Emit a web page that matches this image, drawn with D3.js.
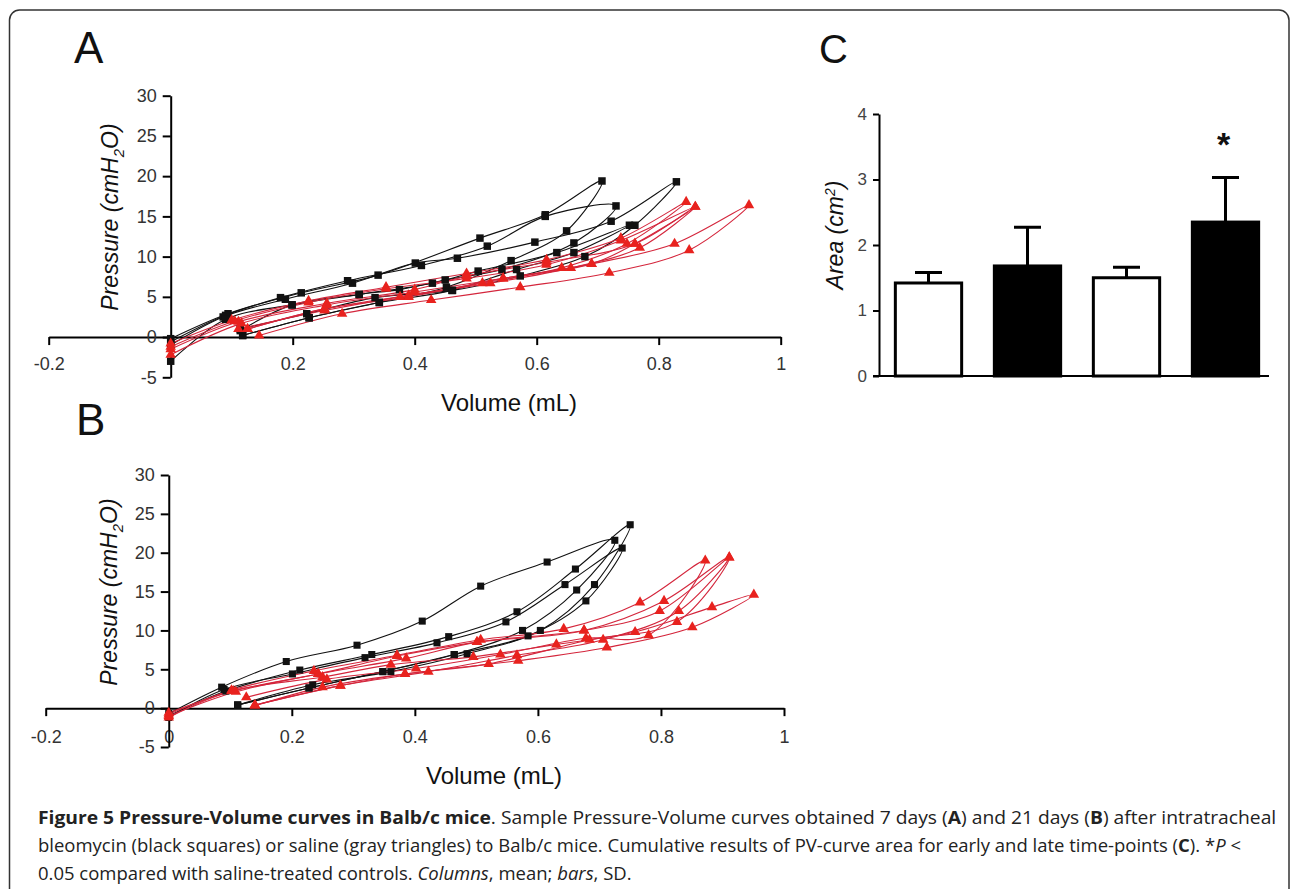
<!DOCTYPE html>
<html>
<head>
<meta charset="utf-8">
<script src="https://cdn.jsdelivr.net/npm/d3@7"></script>
<style>
  html, body { margin: 0; padding: 0; background: #fff; }
  svg { display: block; }
</style>
</head>
<body>
<svg id="fig" width="1290" height="889"></svg>
<script>
// ---------------- data ----------------
const volumeTicks = [-0.2, 0, 0.2, 0.4, 0.6, 0.8, 1];
const pressureTicks = [-5, 0, 5, 10, 15, 20, 25, 30];
const areaTicks = [0, 1, 2, 3, 4];

// PV loops, [volume mL, pressure cmH2O], inflation then deflation
const day7Bleomycin = [
  [[0,-0.2],[0.094,2.9],[0.214,5.5],[0.340,7.7],[0.507,12.3],[0.614,15.2],[0.707,19.4],
   [0.649,13.2],[0.558,9.5],[0.452,6.2],[0.342,4.3],[0.227,2.4],[0.118,0.2]],
  [[0,-1.0],[0.086,2.5],[0.188,4.7],[0.298,6.7],[0.401,9.2],[0.470,9.8],[0.597,11.8],[0.722,14.4],[0.829,19.3],
   [0.761,13.9],[0.679,10.0],[0.573,7.6],[0.462,5.8],[0.335,4.9],[0.223,2.9],[0.114,1.0]],
  [[0,-0.6],[0.090,2.7],[0.180,4.9],[0.290,7.0],[0.411,8.9],[0.519,11.3],[0.614,15.0],[0.730,16.3],
   [0.661,11.7],[0.543,8.4],[0.450,7.1],[0.375,5.9],[0.309,5.3],[0.199,4.0],[0.114,0.8]],
  [[0,-3.0],[0.090,2.2],[0.199,4.0],[0.309,5.3],[0.429,6.7],[0.504,8.2],[0.633,10.5],[0.752,13.9],
   [0.661,10.5],[0.567,8.4],[0.461,5.8],[0.342,4.3],[0.227,2.4],[0.118,0.2]]
];

const day7Saline = [
  [[0,-0.8],[0.100,2.1],[0.226,4.5],[0.353,6.2],[0.485,7.9],[0.616,9.6],[0.738,12.3],[0.845,16.8],
   [0.748,11.6],[0.641,8.6],[0.511,6.7],[0.390,5.2],[0.252,3.5],[0.126,1.0]],
  [[0,-1.5],[0.111,1.9],[0.256,4.2],[0.400,5.9],[0.485,7.6],[0.616,9.3],[0.761,11.6],[0.860,16.2],
   [0.769,11.1],[0.656,8.6],[0.524,6.7],[0.376,5.0],[0.252,3.3],[0.111,1.0]],
  [[0,-2.2],[0.116,1.7],[0.256,4.0],[0.400,5.6],[0.545,7.3],[0.690,9.1],[0.826,11.6],[0.948,16.4],
   [0.850,10.8],[0.719,8.0],[0.573,6.2],[0.427,4.6],[0.281,2.9],[0.145,0.2]],
  [[0,-1.2],[0.105,2.0],[0.226,4.3],[0.353,6.0],[0.485,7.3],[0.616,9.0],[0.738,12.0],[0.860,16.2],
   [0.761,11.6],[0.690,9.1],[0.545,7.3],[0.390,5.0],[0.252,3.5],[0.126,1.0]]
];

const day21Bleomycin = [
  [[0,-0.7],[0.086,2.7],[0.191,6.0],[0.306,8.1],[0.412,11.2],[0.507,15.7],[0.615,18.8],[0.725,21.6],
   [0.663,15.2],[0.575,10.0],[0.464,6.9],[0.348,4.7],[0.228,2.6],[0.112,0.4]],
  [[0,-1.0],[0.093,2.2],[0.213,4.9],[0.330,6.9],[0.455,9.2],[0.566,12.4],[0.661,17.9],[0.750,23.6],
   [0.692,15.9],[0.604,10.0],[0.485,7.0],[0.361,4.7],[0.234,3.0],[0.112,0.4]],
  [[0,-1.2],[0.090,2.4],[0.201,4.4],[0.319,6.5],[0.436,8.4],[0.548,11.1],[0.644,15.9],[0.737,20.6],
   [0.678,13.8],[0.584,9.3],[0.464,6.9],[0.348,4.7],[0.228,2.6],[0.112,0.4]]
];

const day21Saline = [
  [[0,-0.8],[0.102,2.3],[0.236,4.8],[0.371,6.8],[0.507,8.8],[0.642,10.2],[0.766,13.6],[0.872,19.0],
   [0.780,9.4],[0.678,9.0],[0.539,6.9],[0.402,5.1],[0.257,3.7],[0.126,1.4]],
  [[0,-1.0],[0.109,2.1],[0.243,4.4],[0.386,6.4],[0.501,8.5],[0.675,10.0],[0.798,12.5],[0.911,19.4],
   [0.829,12.5],[0.706,8.8],[0.566,6.8],[0.422,4.7],[0.279,2.9],[0.140,0.4]],
  [[0,-1.2],[0.102,2.2],[0.250,4.0],[0.361,5.6],[0.495,6.6],[0.630,8.2],[0.758,9.8],[0.883,13.0],[0.951,14.6],
   [0.851,10.4],[0.712,7.8],[0.568,6.1],[0.384,4.4],[0.250,2.7],[0.140,0.3]],
  [[0,-0.6],[0.105,2.2],[0.243,4.4],[0.371,6.7],[0.501,8.5],[0.675,10.0],[0.805,13.8],[0.911,19.4],
   [0.826,11.1],[0.684,8.8],[0.520,5.7],[0.384,4.4],[0.279,2.9],[0.140,0.4]]
];

// PV-curve area, panel C
const areaGroups = ["Saline early", "Bleomycin early", "Saline late", "Bleomycin late"];
const areaMean = [1.42, 1.68, 1.50, 2.35];
const areaSD = [0.16, 0.59, 0.16, 0.68];
const significant = [false, false, false, true];

// ---------------- drawing ----------------
const svg = d3.select("#fig");
const tickFont = "'Liberation Sans', Arial, sans-serif";
const plain = d => String(d);   // keep ASCII hyphen for negatives

// outer frame
svg.append("path")
  .attr("d", "M9.5,900 V20 A10,10 0 0 1 19.5,10 H1279 A10,10 0 0 1 1289,20 V900")
  .attr("fill", "none").attr("stroke", "#333").attr("stroke-width", 1.5);

function panelLetter(txt, x, y, size) {
  svg.append("text").attr("x", x).attr("y", y)
    .attr("font-family", tickFont).attr("font-size", size)
    .attr("fill", "#111").text(txt);
}

function pvPanel(opt) {
  const g = svg.append("g");
  const x = d3.scaleLinear().domain([-0.2, 1]).range(opt.xRange);
  const y = d3.scaleLinear().domain([-5, 30]).range(opt.yRange);

  // x axis crossing at pressure 0
  const xa = g.append("g").attr("transform", `translate(0,${y(0)})`)
    .call(d3.axisBottom(x).tickValues(volumeTicks).tickSize(8).tickSizeOuter(0)
      .tickPadding(opt.xPad)
      .tickFormat(d => (d === 0 && !opt.showZero) ? "" : plain(d)));
  // y axis at volume 0
  const ya = g.append("g").attr("transform", `translate(${x(0)},0)`)
    .call(d3.axisLeft(y).tickValues(pressureTicks).tickSize(8).tickSizeOuter(0)
      .tickPadding(6).tickFormat(plain));
  [xa, ya].forEach(a => {
    a.select(".domain").attr("stroke", "#000").attr("stroke-width", 2);
    a.selectAll(".tick line").attr("stroke", "#000").attr("stroke-width", 2);
    a.selectAll(".tick text").attr("font-family", tickFont).attr("font-size", 18).attr("fill", "#333");
  });

  // axis titles
  g.append("text").attr("x", opt.xTitle[0]).attr("y", opt.xTitle[1])
    .attr("text-anchor", "middle").attr("font-family", tickFont)
    .attr("font-size", 24).attr("fill", "#111").text("Volume (mL)");
  const yt = g.append("text")
    .attr("transform", `translate(${opt.yTitle[0]},${opt.yTitle[1]}) rotate(-90)`)
    .attr("text-anchor", "middle").attr("font-family", tickFont)
    .attr("font-size", 23).attr("font-style", "italic").attr("fill", "#111");
  yt.append("tspan").text("Pressure (cmH");
  yt.append("tspan").attr("font-size", 15).attr("dy", 6).text("2");
  yt.append("tspan").attr("dy", -6).text("O)");

  const line = d3.line().x(d => x(d[0])).y(d => y(d[1])).curve(d3.curveCatmullRom.alpha(0.5));

  const black = "#111", redLine = "#d4263c", redFill = "#e8221e";
  g.append("g").selectAll("path").data(opt.bleo).join("path")
    .attr("d", line).attr("fill", "none").attr("stroke", black).attr("stroke-width", 1.1);
  g.append("g").selectAll("path").data(opt.saline).join("path")
    .attr("d", line).attr("fill", "none").attr("stroke", redLine).attr("stroke-width", 1.1);

  const sq = d3.symbol().type(d3.symbolSquare).size(opt.sq)();
  const tri = d3.symbol().type(d3.symbolTriangle).size(opt.tri)();
  g.append("g").selectAll("path").data(opt.bleo.flat()).join("path")
    .attr("d", sq).attr("transform", d => `translate(${x(d[0])},${y(d[1])})`).attr("fill", black);
  g.append("g").selectAll("path").data(opt.saline.flat()).join("path")
    .attr("d", tri).attr("transform", d => `translate(${x(d[0])},${y(d[1])})`).attr("fill", redFill);
}

panelLetter("A", 74, 63, 44);
pvPanel({
  xRange: [48.7, 780.7], yRange: [377.3, 95.7], xPad: 12, showZero: false,
  xTitle: [509, 411], yTitle: [118, 217],
  bleo: day7Bleomycin, saline: day7Saline, sq: 56, tri: 48
});

panelLetter("B", 76, 435, 44);
pvPanel({
  xRange: [45.7, 784], yRange: [747, 475], xPad: 14, showZero: true,
  xTitle: [494, 784], yTitle: [117, 592],
  bleo: day21Bleomycin, saline: day21Saline, sq: 50, tri: 48
});

// ---------------- panel C: bar chart ----------------
panelLetter("C", 819, 63, 40);
(function () {
  const g = svg.append("g");
  const x = d3.scaleBand().domain(areaGroups).range([879, 1275]).paddingInner(0.3).paddingOuter(0.15);
  const y = d3.scaleLinear().domain([0, 4]).range([376, 114]);

  const ya = g.append("g").attr("transform", "translate(879,0)")
    .call(d3.axisLeft(y).tickValues(areaTicks).tickSize(6).tickSizeOuter(0)
      .tickPadding(6).tickFormat(plain));
  ya.select(".domain").attr("stroke", "#000").attr("stroke-width", 2);
  ya.selectAll(".tick line").attr("stroke", "#000").attr("stroke-width", 2);
  ya.selectAll(".tick text").attr("font-family", tickFont).attr("font-size", 17).attr("fill", "#444");

  // error bars (upper SD)
  g.append("g").selectAll("path").data(areaGroups).join("path")
    .attr("d", (d, i) => {
      const cx = x(d) + x.bandwidth() / 2;
      return `M${cx},${y(areaMean[i])}V${y(areaMean[i] + areaSD[i])}M${cx - 13.5},${y(areaMean[i] + areaSD[i])}h27`;
    })
    .attr("stroke", "#000").attr("stroke-width", 3).attr("fill", "none");

  g.append("g").selectAll("rect").data(areaGroups).join("rect")
    .attr("x", d => x(d) + 1.5).attr("width", x.bandwidth() - 3)
    .attr("y", (d, i) => y(areaMean[i])).attr("height", (d, i) => y(0) - y(areaMean[i]))
    .attr("fill", d => d.startsWith("Bleomycin") ? "#000" : "#fff")
    .attr("stroke", "#000").attr("stroke-width", 3);

  // baseline
  g.append("line").attr("x1", 873).attr("x2", 1269).attr("y1", y(0)).attr("y2", y(0))
    .attr("stroke", "#000").attr("stroke-width", 2);

  g.append("g").selectAll("text").data(areaGroups.filter((d, i) => significant[i])).join("text")
    .attr("x", d => x(d) + x.bandwidth() / 2 - 2).attr("y", 156)
    .attr("text-anchor", "middle").attr("font-family", tickFont)
    .attr("font-weight", "bold").attr("font-size", 34).attr("fill", "#111").text("*");

  const t = g.append("text").attr("transform", "translate(843,235) rotate(-90)")
    .attr("text-anchor", "middle").attr("font-family", tickFont)
    .attr("font-size", 23).attr("font-style", "italic").attr("fill", "#111");
  t.append("tspan").text("Area (cm");
  t.append("tspan").attr("font-size", 14).attr("dy", -8).text("2");
  t.append("tspan").attr("dy", 8).text(")");
})();

// ---------------- caption ----------------
const captionLines = [
  [["Figure 5 Pressure-Volume curves in Balb/c mice", "b"], [". Sample Pressure-Volume curves obtained 7 days (", ""],
   ["A", "b"], [") and 21 days (", ""], ["B", "b"], [") after intratracheal", ""]],
  [["bleomycin (black squares) or saline (gray triangles) to Balb/c mice. Cumulative results of PV-curve area for early and late time-points (", ""],
   ["C", "b"], ["). *", ""], ["P", "i"], [" <", ""]],
  [["0.05 compared with saline-treated controls. ", ""], ["Columns", "i"], [", mean; ", ""], ["bars", "i"], [", SD.", ""]]
];
const captionBaselines = [824, 852, 880];
const captionWidths = [1239, 1203, null];   // null: use previous line's scale
let lastScale = 1;
captionLines.forEach((parts, li) => {
  const g = svg.append("g");
  const t = g.append("text").attr("x", 0).attr("y", captionBaselines[li])
    .attr("font-family", "'Open Sans', sans-serif").attr("font-size", 17.5).attr("fill", "#222");
  parts.forEach(([s, f]) => {
    const ts = t.append("tspan").text(s);
    if (f === "b") ts.attr("font-weight", "bold");
    if (f === "i") ts.attr("font-style", "italic");
  });
  if (captionWidths[li]) lastScale = captionWidths[li] / t.node().getComputedTextLength();
  g.attr("transform", `translate(38,0) scale(${lastScale},1)`);
});
</script>
</body>
</html>
